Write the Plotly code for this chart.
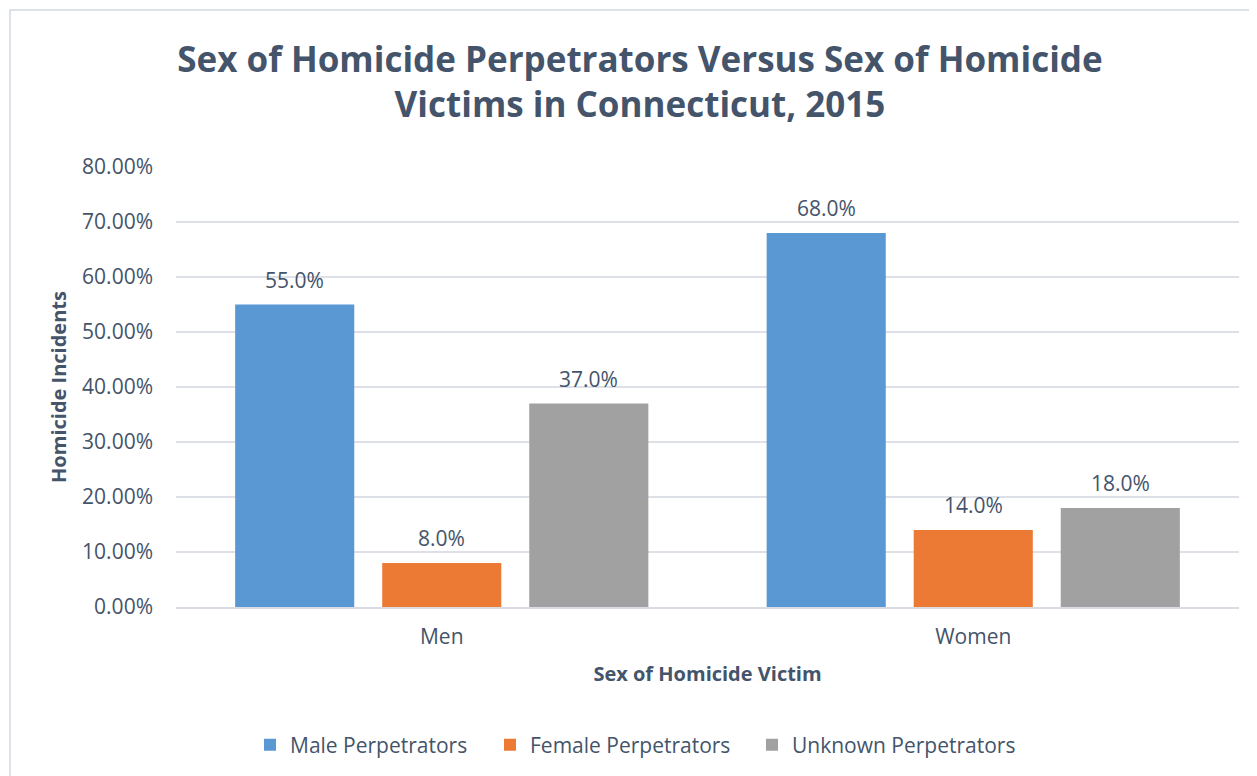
import plotly.graph_objects as go

categories = ["Men", "Women"]
series_names = ["Male Perpetrators", "Female Perpetrators", "Unknown Perpetrators"]
male = [55.0, 68.0]
female = [8.0, 14.0]
unknown = [37.0, 18.0]
series_values = [male, female, unknown]
colors = ["#5A98D4", "#EC7A35", "#A1A1A1"]
tick_vals = [0, 10, 20, 30, 40, 50, 60, 70, 80]
tick_text = ["0.00%", "10.00%", "20.00%", "30.00%", "40.00%", "50.00%", "60.00%", "70.00%", "80.00%"]

TEXT = "#44546A"
FONT = "Open Sans"
OFF = 8  # page body margin

W, H = 1257, 776
# desired screen positions of plot area
SL, SR, ST, SB = 176, 1239, 167, 607
L = SL - OFF
T = ST - OFF
R = W - (SR - OFF)
B = H - (SB - OFF)
pw, ph = W - L - R, H - T - B

def px(sx):
    return (sx - OFF - L) / pw

def py(sy):
    return (H - B - (sy - OFF)) / ph

BARGAP, GROUPGAP = 0.17, 0.19
slot = (1 - BARGAP) / len(series_names)

legend_ids = ["legend", "legend2", "legend3"]
legend_left = [250, 490, 752]

fig = go.Figure()
for name, vals, col, lid in zip(series_names, series_values, colors, legend_ids):
    fig.add_trace(go.Bar(
        x=categories, y=vals, name=name, legend=lid, showlegend=True,
        marker=dict(color=col, line=dict(width=0)),
    ))

annotations = []
for j, vals in enumerate(series_values):
    for i, v in enumerate(vals):
        annotations.append(dict(
            x=i + (j - 1) * slot, y=v, xref="x", yref="y",
            text=f"{v:.1f}%", showarrow=False,
            yanchor="middle", yshift=25,
            font=dict(family=FONT, size=21, color=TEXT),
        ))

legend_common = dict(
    orientation="h", xanchor="left", y=py(745), yanchor="middle",
    font=dict(family=FONT, size=21, color=TEXT),
    itemwidth=30, bgcolor="rgba(0,0,0,0)", visible=True,
)

fig.update_layout(
    width=W, height=H,
    showlegend=True,
    margin=dict(l=L, r=R, t=T, b=B),
    paper_bgcolor="white", plot_bgcolor="white",
    font=dict(family=FONT, color=TEXT),
    barmode="group", bargap=BARGAP, bargroupgap=GROUPGAP,
    title=dict(
        text="Sex of Homicide Perpetrators Versus Sex of Homicide<br>Victims in Connecticut, 2015",
        x=(640 - OFF) / W, xanchor="center", xref="container",
        y=1 - (71.5 - OFF) / H, yanchor="middle", yref="container",
        font=dict(family=FONT, size=35, color=TEXT, weight="bold"),
    ),
    xaxis=dict(
        range=[-0.5, 1.5],
        showgrid=False, showline=True, linecolor="#D9DDE3", linewidth=2,
        ticks="", tickfont=dict(family=FONT, size=21, color=TEXT),
        ticklabelstandoff=10,
        title=dict(text="<b>Sex of Homicide Victim</b>", font=dict(family=FONT, size=20, color=TEXT), standoff=18),
    ),
    yaxis=dict(
        range=[0, 80], tickvals=tick_vals, ticktext=tick_text,
        showgrid=True, gridcolor="#DDE1E7", gridwidth=1.5, zeroline=False,
        tickfont=dict(family=FONT, size=21, color=TEXT), ticks="",
        ticklabelstandoff=22,
        title=dict(text="<b>Homicide Incidents</b>", font=dict(family=FONT, size=20, color=TEXT), standoff=10),
    ),
    legend=dict(x=px(legend_left[0]), **legend_common),
    legend2=dict(x=px(legend_left[1]), **legend_common),
    legend3=dict(x=px(legend_left[2]), **legend_common),
    annotations=annotations,
    shapes=[dict(
        type="rect", xref="paper", yref="paper",
        x0=px(10), x1=px(1320), y0=py(10), y1=py(840),
        line=dict(color="#DDE2E8", width=2), fillcolor="rgba(0,0,0,0)", layer="below",
    )],
)

fig.write_html("out.html")
